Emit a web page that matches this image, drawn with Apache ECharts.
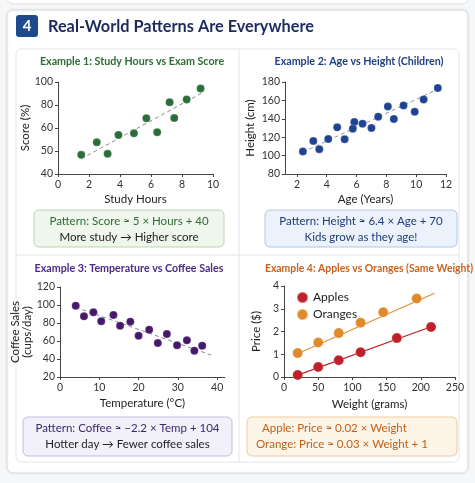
<!DOCTYPE html>
<html>
<head>
<meta charset="utf-8">
<script src="https://cdn.jsdelivr.net/npm/echarts@6/dist/echarts.min.js"></script>
<style>
  html, body { margin: 0; padding: 0; background: #f6f7f8; }
  #chart { width: 475px; height: 483px; }
</style>
</head>
<body>
<div id="chart"></div>
<script>
// Example 1: study hours vs score
const hours = [1.5, 2.5, 3.2, 3.9, 4.9, 5.7, 6.4, 7.2, 7.5, 8.3, 9.2];
const scores = [52.5, 60.7, 53.2, 65.5, 66.5, 76.3, 67.2, 86.8, 76.5, 88.6, 95.7];
const scoreTrendX = [1.5, 9.3];
const scoreTrendY = [49.9, 92.9];
const scoreTickPos = [40, 55, 70, 85, 100];
const scoreTickText = ['40', '50', '60', '80', '100'];

// Example 2: age vs height
const ages = [2.4, 3.1, 3.5, 4.1, 4.7, 5.2, 5.85, 5.75, 6.4, 7.0, 7.45, 8.1, 8.5, 9.15, 9.9, 10.5, 11.45];
const heights = [104.5, 116, 107, 118, 130.7, 117.8, 136.5, 129.3, 134.7, 130, 142.2, 153.4, 139.7, 154.5, 147.6, 161, 173.5];
const heightTrendX = [2.4, 11.4];
const heightTrendY = [103.7, 171.7];
const ageTicks = [2, 4, 6, 8, 10, 12];

// Example 3: temperature vs coffee
const temps = [4, 6.1, 8.5, 10.5, 13.6, 15.3, 17.9, 20, 22.7, 24.9, 27.2, 29.8, 32.3, 34.2, 36.2];
const coffee = [99.3, 87.4, 91.9, 81.9, 88.9, 77, 81.5, 65.9, 72.6, 57.8, 67.8, 55.2, 60.7, 49.3, 54.8];
const coffeeTrendX = [4, 38.5];
const coffeeTrendY = [97.4, 44.4];
const tempTicks = [0, 10, 20, 30, 40];

// Example 4: apples vs oranges
const appleWeights = [20, 50, 80, 112, 165, 215];
const applePrices = [0.09, 0.44, 0.74, 1.09, 1.71, 2.2];
const orangeWeights = [20, 50, 80, 112, 145, 194];
const orangePrices = [1.05, 1.52, 1.93, 2.39, 2.85, 3.45];
const appleLineX = [18, 216];
const appleLineY = [0.06, 2.22];
const orangeLineX = [18, 220];
const orangeLineY = [1.0, 3.68];

const zip = (xs, ys) => xs.map((x, i) => [x, ys[i]]);

const FONT = 'Lato';
const axisLine = { lineStyle: { color: '#444', width: 1 } };
const axisTick = { show: true, length: 3, lineStyle: { color: '#444' } };
const axisLabel = { color: '#333', fontSize: 10.5, fontFamily: FONT, margin: 5 };
const nameStyle = { color: '#222', fontSize: 11.5, fontFamily: FONT };

function xAx(grid, min, max, name, gap, extra) {
    return Object.assign({
        type: 'value', gridIndex: grid, min: min, max: max,
        name: name, nameLocation: 'middle', nameGap: gap, nameTextStyle: nameStyle,
        axisLine: axisLine, axisTick: Object.assign({}, axisTick),
        axisLabel: Object.assign({}, axisLabel), splitLine: { show: false }
    }, extra || {});
}
function yAx(grid, min, max, name, gap, extra) {
    return Object.assign({
        type: 'value', gridIndex: grid, min: min, max: max,
        name: name, nameLocation: 'middle', nameGap: gap, nameTextStyle: nameStyle,
        axisLine: Object.assign({ show: true }, axisLine), axisTick: Object.assign({}, axisTick),
        axisLabel: Object.assign({}, axisLabel), splitLine: { show: false }
    }, extra || {});
}

function dots(i, data, color, size) {
    return {
        type: 'scatter', xAxisIndex: i, yAxisIndex: i, data: data, symbolSize: size,
        itemStyle: { color: color, opacity: 1, borderColor: 'rgba(255,255,255,0.35)', borderWidth: 0.6 },
        z: 3
    };
}
function trend(i, data, color, dashed, width) {
    return {
        type: 'line', xAxisIndex: i, yAxisIndex: i, data: data, symbol: 'none',
        lineStyle: { color: color, width: width || 1, type: dashed ? [4, 3] : 'solid' },
        z: 2, silent: true
    };
}

function box(x, y, w, h, fill, stroke) {
    return { type: 'rect', shape: { x: x, y: y, width: w, height: h, r: 5 },
        style: { fill: fill, stroke: stroke, lineWidth: 1 }, z: 1 };
}
function txt(x, y, text, color, size, weight, align) {
    return { type: 'text', x: x, y: y, z: 5,
        style: { text: text, fill: color, fontSize: size, fontWeight: weight || 'normal',
            fontFamily: FONT, textAlign: align || 'center', textVerticalAlign: 'middle' } };
}

const chart = echarts.init(document.getElementById('chart'), null, { renderer: 'canvas' });

const option = {
    backgroundColor: '#f6f7f8',
    animation: false,
    graphic: [
        // previous card edge
        { type: 'rect', shape: { x: 7, y: -12, width: 461, height: 16, r: 6 },
          style: { fill: '#fff', stroke: '#dcdde0', lineWidth: 1 }, z: 0 },
        // main card
        { type: 'rect', shape: { x: 7, y: 10, width: 461, height: 463, r: 6 },
          style: { fill: '#fff', stroke: '#dcdde0', lineWidth: 1,
                   shadowBlur: 3, shadowColor: 'rgba(0,0,0,0.08)' }, z: 0 },
        // header badge
        { type: 'rect', shape: { x: 16, y: 15, width: 22, height: 22, r: 3 },
          style: { fill: '#1d4a8c' }, z: 1 },
        txt(27, 26.5, '4', '#fff', 15, 'bold'),
        txt(48, 26.5, 'Real-World Patterns Are Everywhere', '#1c2b5e', 16.3, 'bold', 'left'),
        // inner table
        { type: 'rect', shape: { x: 16, y: 49, width: 443, height: 413, r: 5 },
          style: { fill: '#fff', stroke: '#e4e5e8', lineWidth: 1 }, z: 0 },
        { type: 'line', shape: { x1: 239, y1: 49, x2: 239, y2: 462 },
          style: { stroke: '#e4e5e8', lineWidth: 1 }, z: 0 },
        { type: 'line', shape: { x1: 16, y1: 255, x2: 459, y2: 255 },
          style: { stroke: '#e4e5e8', lineWidth: 1 }, z: 0 },
        // panel titles
        txt(132, 62, 'Example 1: Study Hours vs Exam Score', '#2f6b35', 10.7, 'bold'),
        txt(359, 62, 'Example 2: Age vs Height (Children)', '#1f3f80', 10.7, 'bold'),
        txt(129, 269, 'Example 3: Temperature vs Coffee Sales', '#4a2a86', 10.7, 'bold'),
        txt(369, 269, 'Example 4: Apples vs Oranges (Same Weight)', '#c8621c', 10.4, 'bold'),
        // pattern boxes
        box(34, 210, 190, 37, '#eff6ec', '#bcd3b4'),
        txt(129, 221, 'Pattern: Score \u2248 5 \u00d7 Hours + 40', '#2f6b35', 11.5),
        txt(129, 237, 'More study \u2192 Higher score', '#222', 11.5),
        box(265, 210, 192, 37, '#ecf2fb', '#b4c6e3'),
        txt(361, 221, 'Pattern: Height \u2248 6.4 \u00d7 Age + 70', '#1f3a78', 11.5),
        txt(361, 237, 'Kids grow as they age!', '#1f3a78', 11.5),
        box(23, 417, 209, 39, '#f2f0f9', '#c3bbdd'),
        txt(127.5, 428, 'Pattern: Coffee \u2248 \u22122.2 \u00d7 Temp + 104', '#3a2870', 11.5),
        txt(127.5, 444, 'Hotter day \u2192 Fewer coffee sales', '#222', 11.5),
        box(247, 417, 210, 39, '#fdf4e8', '#edcc9f'),
        txt(262, 428, 'Apple: Price \u2248 0.02 \u00d7 Weight', '#c0601a', 11.5, 'normal', 'left'),
        txt(256, 444, 'Orange: Price \u2248 0.03 \u00d7 Weight + 1', '#c0601a', 11.5, 'normal', 'left')
    ],
    grid: [
        { left: 58, top: 82, width: 155, height: 92 },
        { left: 285, top: 82, width: 161, height: 92 },
        { left: 60, top: 287, width: 165, height: 90 },
        { left: 284, top: 286, width: 171, height: 91 }
    ],
    xAxis: [
        xAx(0, 0, 10, 'Study Hours', 19, { interval: 2 }),
        xAx(1, 1.2, 12, 'Age (Years)', 19, {
            axisLabel: Object.assign({}, axisLabel, { customValues: ageTicks }),
            axisTick: Object.assign({}, axisTick, { customValues: ageTicks }) }),
        xAx(2, 0, 42, 'Temperature (\u00b0C)', 20, {
            axisLabel: Object.assign({}, axisLabel, { customValues: tempTicks }),
            axisTick: Object.assign({}, axisTick, { customValues: tempTicks }) }),
        xAx(3, 0, 250, 'Weight (grams)', 21, { interval: 50 })
    ],
    yAxis: [
        yAx(0, 40, 100, 'Score (%)', 23, {
            axisLabel: Object.assign({}, axisLabel, { customValues: scoreTickPos,
                formatter: v => scoreTickText[scoreTickPos.indexOf(v)] }),
            axisTick: Object.assign({}, axisTick, { customValues: scoreTickPos }) }),
        yAx(1, 80, 180, 'Height (cm)', 29, { interval: 20 }),
        yAx(2, 20, 120, 'Coffee Sales\n(cups/day)', 12, { interval: 20,
            nameTextStyle: Object.assign({}, nameStyle, { lineHeight: 12 }) }),
        yAx(3, 0, 4, 'Price ($)', 22, { interval: 1 })
    ],
    legend: {
        orient: 'vertical', left: 291, top: 286, itemGap: 4,
        itemWidth: 11, itemHeight: 11, icon: 'circle',
        textStyle: { color: '#222', fontSize: 12, fontFamily: FONT },
        data: ['Apples', 'Oranges']
    },
    series: [
        trend(0, zip(scoreTrendX, scoreTrendY), '#8a8f8a', true),
        dots(0, zip(hours, scores), '#2c6e3a', 8),
        trend(1, zip(heightTrendX, heightTrendY), '#8a97ad', true),
        dots(1, zip(ages, heights), '#1f4391', 8),
        trend(2, zip(coffeeTrendX, coffeeTrendY), '#8c86a6', true),
        dots(2, zip(temps, coffee), '#46196b', 8),
        trend(3, zip(appleLineX, appleLineY), '#c0202a', false, 1.2),
        trend(3, zip(orangeLineX, orangeLineY), '#e29035', false, 1.2),
        Object.assign(dots(3, zip(appleWeights, applePrices), '#c0202a', 10), { name: 'Apples' }),
        Object.assign(dots(3, zip(orangeWeights, orangePrices), '#e08a2a', 10), { name: 'Oranges' })
    ]
};

chart.setOption(option);
</script>
</body>
</html>
